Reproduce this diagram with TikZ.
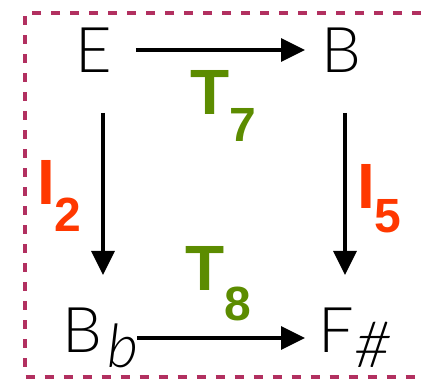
\documentclass[tikz,border=0pt]{standalone}
\usepackage{fontspec}
\setmainfont{Liberation Sans}
\newfontfamily\lightfont{Lato Light}[ItalicFont={Lato Light Italic}]
\usetikzlibrary{arrows.meta}
\definecolor{framecol}{RGB}{178,48,96}
\definecolor{tgreen}{RGB}{92,140,0}
\definecolor{ired}{RGB}{255,56,0}
\tikzset{
  note/.style={inner sep=0pt, anchor=base west, font=\lightfont\fontsize{63}{63}\selectfont},
  tlabel/.style={inner sep=0pt, anchor=base west, text=tgreen, font=\bfseries\fontsize{64}{64}\selectfont},
  ilabel/.style={inner sep=0pt, anchor=base west, text=ired, font=\bfseries\fontsize{64}{64}\selectfont},
  arr/.style={line width=3.5pt, -{Triangle[length=24pt,width=23pt]}},
  frame/.style={draw=framecol, line width=4pt, dash pattern=on 9pt off 10pt}
}
\newcommand{\lowsub}[2]{\raisebox{-#1pt}{\fontsize{48}{48}\selectfont #2}}
\newcommand{\accsub}[2]{\raisebox{-15pt}{\fontsize{#1}{#1}\selectfont\itshape #2}}
\begin{document}
\begin{tikzpicture}[x=1pt,y=-1pt]
  \useasboundingbox (0,0) rectangle (421,379);
  % dashed frame, open on the right
  \draw[frame] (421,13.5) -- (25,13.5) -- (25,377) -- (421,377);

  % the four notes
  \node[note] (E)  at (75,73)  {E};
  \node[note] (B)  at (321,73) {B};
  \node[note] (Bb) at (62,353) {B\hspace{5pt}\accsub{60}{b}};
  \node[note] (F)  at (318,353) {F\hspace{1pt}\accsub{64}{\#}};

  % transformations
  \draw[arr] ([shift={(24,-23)}]E.base east) -- ([shift={(-16,-23)}]B.base west);
  \draw[arr] ([shift={(75,-15)}]Bb.base west) -- ([shift={(-13,-15)}]F.base west);
  \draw[arr] ([shift={(28,40)}]E.base west) -- ([shift={(41,-78)}]Bb.base west);
  \draw[arr] ([shift={(24,40)}]B.base west) -- ([shift={(27,-78)}]F.base west);

  % labels
  \node[tlabel] (T7) at (190,115) {T\lowsub{27}{7}};
  \node[tlabel] (T8) at (185,291) {T\lowsub{30}{8}};
  \node[ilabel] (I2) at (37,205)  {I\lowsub{27}{2}};
  \node[ilabel] (I5) at (357,209) {I\lowsub{24}{5}};
\end{tikzpicture}
\end{document}
